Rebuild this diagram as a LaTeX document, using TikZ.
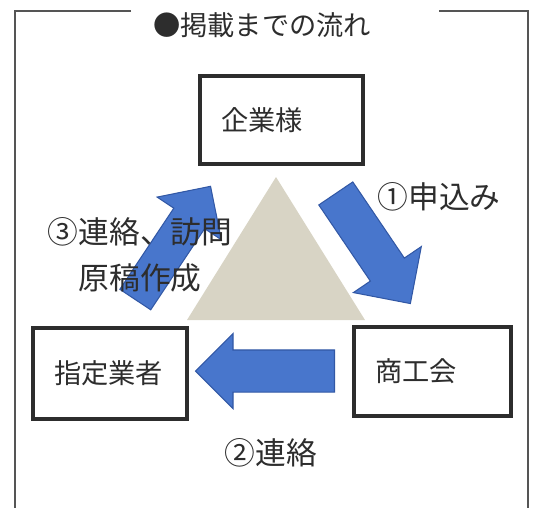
\documentclass[tikz,border=0pt]{standalone}
\usepackage{fontspec}
\setmainfont{Noto Sans CJK JP}
\usepackage{xcolor}
\usepackage{tikz}
\usetikzlibrary{shapes,shapes.arrows,positioning,calc}
\definecolor{arrowblue}{RGB}{72,118,204}
\definecolor{arrowedge}{RGB}{50,88,165}
\definecolor{trigray}{RGB}{216,212,197}
\definecolor{inkgray}{RGB}{45,45,45}
\definecolor{framegray}{RGB}{85,85,85}

\begin{document}
\begin{tikzpicture}[
    x=0.02cm, y=-0.02cm,
    box/.style={rectangle, draw=inkgray, line width=2.3pt, align=left, inner xsep=0.42cm, inner ysep=0pt, text=inkgray, font=\fontsize{15.5pt}{18pt}\selectfont},
    bigarrow/.style={single arrow, draw=arrowedge, line width=0.6pt, fill=arrowblue, inner xsep=0pt, anchor=tail},
    lbl/.style={text=inkgray, font=\fontsize{17.5pt}{26pt}\selectfont, align=center, inner sep=0pt},
    frame/.style={draw=framegray, line width=1.1pt}
]
    \useasboundingbox (0,0) rectangle (534,508);

    % Frame with title
    \draw[frame] (131,11) -- (15,11) -- (15,508);
    \draw[frame] (439,11) -- (528,11) -- (528,508);
    \node[text=inkgray, font=\fontsize{15.5pt}{18pt}\selectfont, inner sep=0pt] (title) at (262,25) {●掲載までの流れ};

    % Triangle in the middle
    \fill[trigray] (276,177) -- (187,320) -- (365,320) -- cycle;

    % Boxes
    \node[box, text width=2.42cm, minimum height=1.76cm] (kigyo) at (281.5,120) {企業様};
    \node[box, text width=2.24cm, minimum height=1.82cm] (gyosha) at (110,373.5) {指定業者};
    \node[box, text width=2.30cm, minimum height=1.78cm] (shokokai) at (432.5,371.5) {商工会};

    % Block arrows
    \node[bigarrow, inner ysep=0.40cm, single arrow head extend=0.41cm, minimum height=2.66cm, rotate=-55.9] (apply) at (335.5,193) {};
    \node[bigarrow, inner ysep=0.41cm, single arrow head extend=0.33cm, minimum height=2.78cm, rotate=180] (contact) at (335,371) {};
    \node[bigarrow, inner ysep=0.36cm, single arrow head extend=0.40cm, minimum height=2.72cm, rotate=56.4] (visit) at (135,300) {};

    % Labels
    \node[lbl] (apply-l) at (439,197) {①申込み};
    \node[lbl] (contact-l) at (271,453) {②連絡};
    \node[lbl] (visit-l) at (140,255) {③連絡、訪問\\原稿作成};
\end{tikzpicture}
\end{document}
